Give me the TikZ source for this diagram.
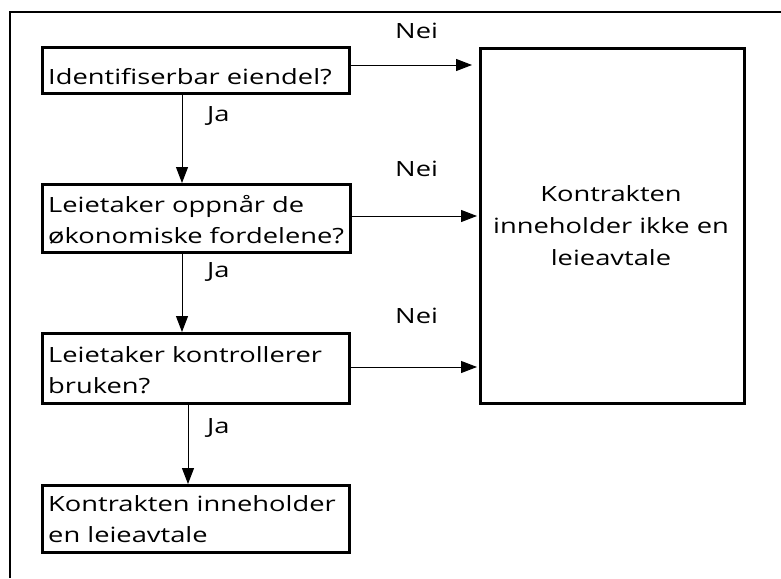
\documentclass[tikz,border=0pt]{standalone}
\usepackage{fontspec}
\setmainfont[FakeStretch=1.3]{Open Sans}
\usetikzlibrary{arrows.meta}
\begin{document}
\begin{tikzpicture}[x=1pt,y=-1pt,
  qbox/.style={draw,line width=3pt,inner sep=0pt,anchor=north west},
  txt/.style={inner sep=0pt,anchor=base west,font=\fontsize{21}{31}\selectfont},
  lbl/.style={inner sep=0pt,anchor=base west,font=\fontsize{21}{24}\selectfont},
  conn/.style={line width=1pt,-{Triangle[length=16pt,width=12pt]}}]
\useasboundingbox (0,0) rectangle (781,578);
\draw[line width=1.5pt] (10,578) -- (10,12) -- (781,12);
% boxes
\node[qbox,minimum width=307pt,minimum height=46pt] (b1) at (41,46) {};
\node[qbox,minimum width=308pt,minimum height=68pt] (b2) at (41,183) {};
\node[qbox,minimum width=307pt,minimum height=70pt] (b3) at (41,332) {};
\node[qbox,minimum width=307pt,minimum height=67pt] (b4) at (41,484) {};
\node[qbox,minimum width=264pt,minimum height=355pt] (big) at (479,47) {};
% texts
\node[txt] (t1) at (48,84) {Identifiserbar eiendel?};
\node[txt] (t2a) at (48,212) {Leietaker oppnår de};
\node[txt] (t2b) at (48,243) {økonomiske fordelene?};
\node[txt] (t3a) at (48,362) {Leietaker kontrollerer};
\node[txt] (t3b) at (48,393) {bruken?};
\node[txt] (t4a) at (48,511) {Kontrakten inneholder};
\node[txt] (t4b) at (48,542) {en leieavtale};
\node[txt,anchor=base] (tb1) at (611,201) {Kontrakten};
\node[txt,anchor=base] (tb2) at (611,233) {inneholder ikke en};
\node[txt,anchor=base] (tb3) at (611,265) {leieavtale};
% labels
\node[lbl] (n1) at (395,39) {Nei};
\node[lbl] (n2) at (395,176) {Nei};
\node[lbl] (n3) at (395,323) {Nei};
\node[lbl] (j1) at (207,121) {Ja};
\node[lbl] (j2) at (207,277) {Ja};
\node[lbl] (j3) at (207,433) {Ja};
% connectors
\coordinate (e1) at (472,65);
\coordinate (e2) at (477,216);
\coordinate (e3) at (477,367);
\draw[conn] (b1.east |- e1) -- (e1);
\draw[conn] (b2.east |- e2) -- (e2);
\draw[conn] (b3.east |- e3) -- (e3);
\draw[conn] ([xshift=141pt]b1.south west) -- ([xshift=141pt]b2.north west);
\draw[conn] ([xshift=141pt]b2.south west) -- ([xshift=141pt]b3.north west);
\draw[conn] ([xshift=147pt]b3.south west) -- ([xshift=147pt]b4.north west);
\end{tikzpicture}
\end{document}
